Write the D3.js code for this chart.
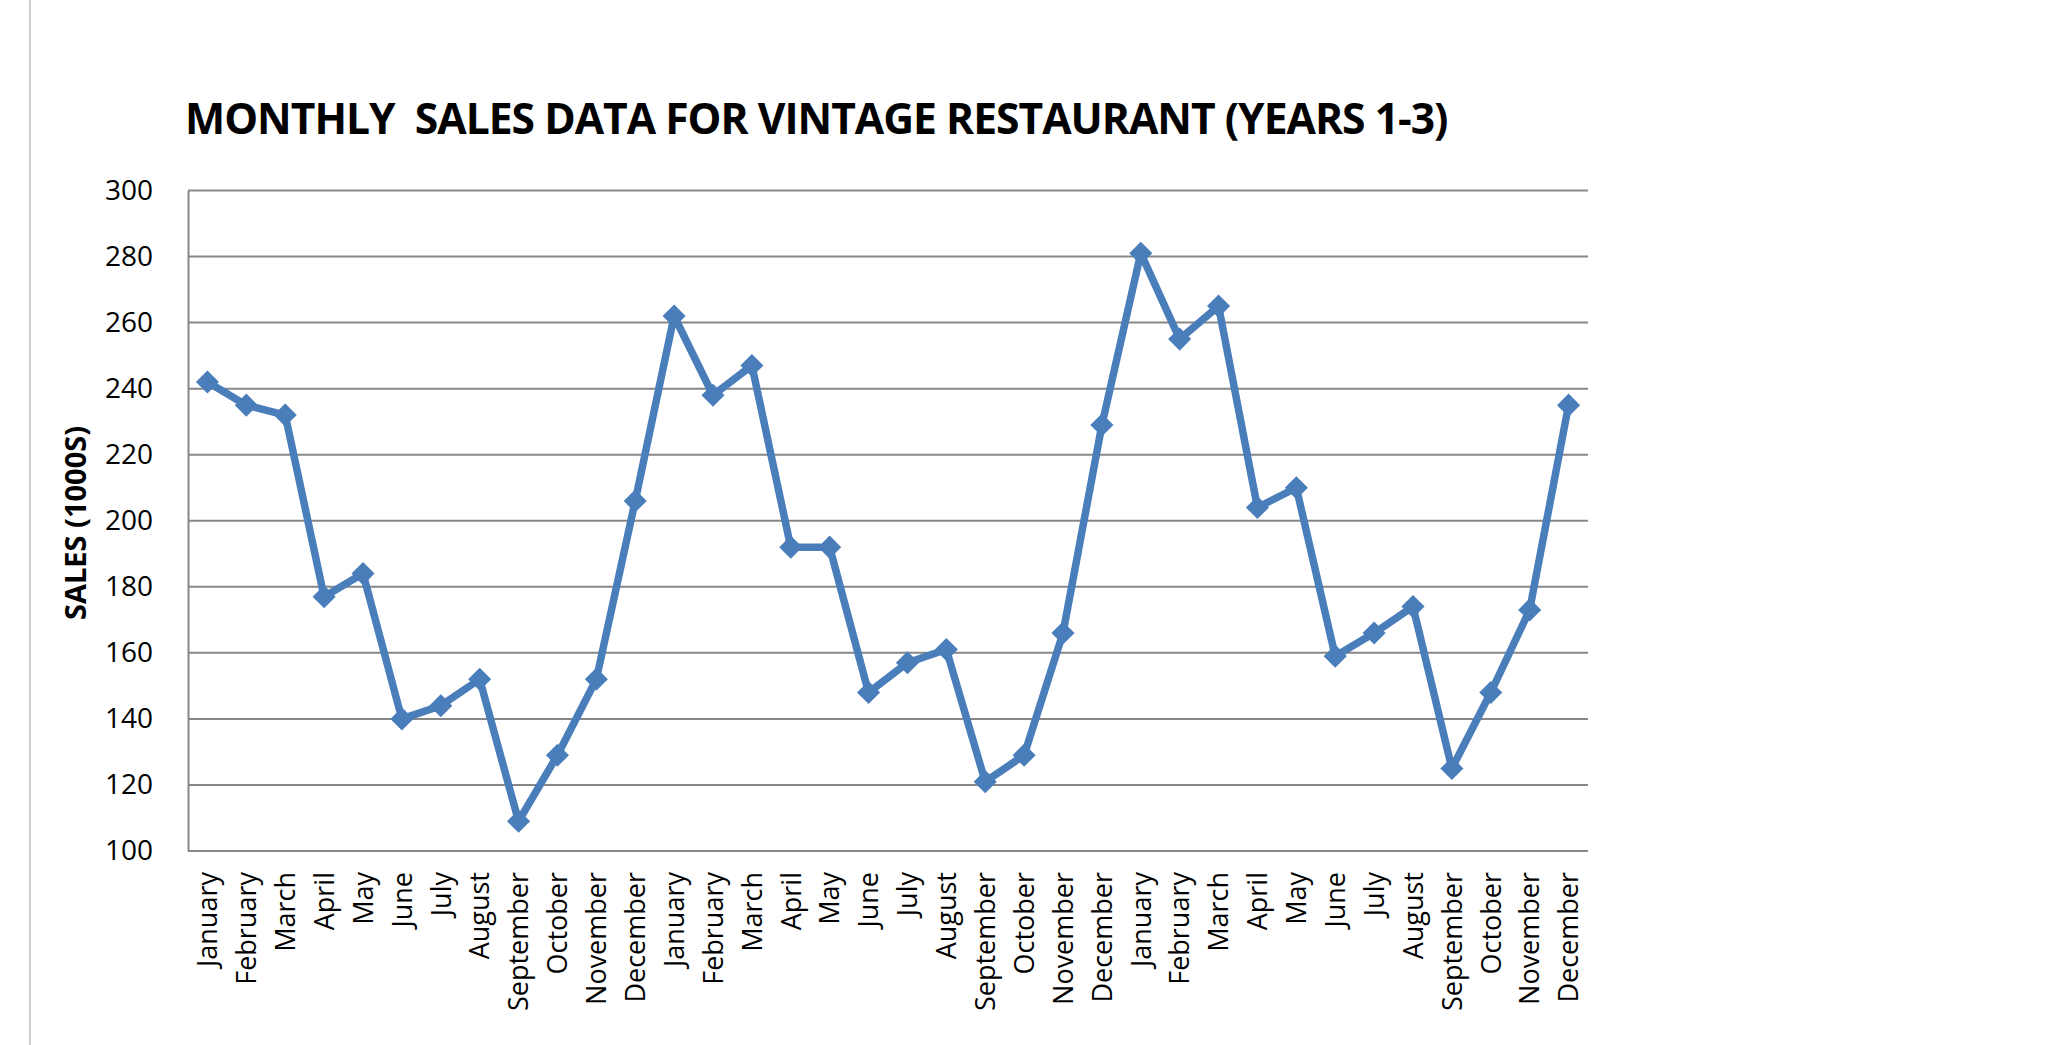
<!DOCTYPE html>
<html>
<head>
<meta charset="utf-8">
<script src="https://cdn.jsdelivr.net/npm/d3@7"></script>
<style>
  body { margin: 0; background: #fff; }
  svg { display: block; }
</style>
</head>
<body>
<script>
// monthly sales, three years back to back
var months = ["January", "February", "March", "April", "May", "June",
  "July", "August", "September", "October", "November", "December"];
var year1 = [242, 235, 232, 177, 184, 140, 144, 152, 109, 129, 152, 206];
var year2 = [262, 238, 247, 192, 192, 148, 157, 161, 121, 129, 166, 229];
var year3 = [281, 255, 265, 204, 210, 159, 166, 174, 125, 148, 173, 235];
var yTicks = [100, 120, 140, 160, 180, 200, 220, 240, 260, 280, 300];
var title = "MONTHLY  SALES DATA FOR VINTAGE RESTAURANT (YEARS 1-3)";
var yTitle = "SALES (1000S)";

var width = 2046;
var height = 1045;
var margin = {left: 188, right: 458, top: 190.5, bottom: 194};

var sales = year1.concat(year2, year3).map(function(v, i) {
  return {key: i, month: months[i % 12], value: v};
});

var svg = d3.select("body").append("svg")
    .attr("width", width)
    .attr("height", height);

// thin page edge on the left
svg.append("line")
    .attr("x1", 30).attr("x2", 30)
    .attr("y1", 0).attr("y2", height)
    .attr("stroke", "#cfcfcf")
    .attr("stroke-width", 2);

var x = d3.scaleBand()
    .domain(sales.map(function(d) { return d.key; }))
    .range([margin.left, width - margin.right]);

var y = d3.scaleLinear()
    .domain([100, 300])
    .range([height - margin.bottom, margin.top]);

// gridlines
svg.append("g")
    .selectAll("line")
    .data(yTicks)
    .enter()
    .append("line")
    .attr("x1", margin.left)
    .attr("x2", width - margin.right)
    .attr("y1", function(d) { return y(d); })
    .attr("y2", function(d) { return y(d); })
    .attr("stroke", "#878787")
    .attr("stroke-width", 2);

// y axis
var yAxis = svg.append("g")
    .attr("transform", "translate(" + margin.left + ",0)")
    .call(d3.axisLeft(y).tickValues(yTicks).tickSize(0).tickPadding(35));
yAxis.select(".domain").attr("stroke", "#878787").attr("stroke-width", 2);
yAxis.selectAll("text")
    .attr("font-family", "'Open Sans', sans-serif")
    .attr("font-size", 28)
    .attr("fill", "#000");

// x axis
var xAxis = svg.append("g")
    .attr("transform", "translate(0," + (height - margin.bottom) + ")")
    .call(d3.axisBottom(x).tickSize(0).tickFormat(function(k) { return sales[k].month; }));
xAxis.select(".domain").remove();
xAxis.selectAll("text")
    .attr("font-family", "'Open Sans', sans-serif")
    .attr("font-size", 27)
    .attr("fill", "#000")
    .attr("text-anchor", "end")
    .attr("dy", "0.36em")
    .attr("transform", "translate(0,21) rotate(-90)")
    .attr("x", 0)
    .attr("y", 0);

// y axis title
svg.append("text")
    .attr("transform", "translate(86,523) rotate(-90)")
    .attr("text-anchor", "middle")
    .attr("font-family", "'Open Sans', sans-serif")
    .attr("font-weight", "bold")
    .attr("font-size", 29)
    .text(yTitle);

// chart title, sized to the reference width
var t = svg.append("text")
    .attr("x", 185)
    .attr("y", 134)
    .attr("font-family", "'Open Sans', sans-serif")
    .attr("font-weight", "bold")
    .attr("font-size", 42)
    .attr("letter-spacing", -1)
    .style("white-space", "pre")
    .text(title);
var tw = t.node().getComputedTextLength();
t.attr("font-size", 42 * 1262 / tw);

// the line
var line = d3.line()
    .x(function(d) { return x(d.key) + x.bandwidth() / 2; })
    .y(function(d) { return y(d.value); });

svg.append("path")
    .datum(sales)
    .attr("d", line)
    .attr("fill", "none")
    .attr("stroke", "#4a7ebb")
    .attr("stroke-width", 7.5)
    .attr("stroke-linejoin", "round");

svg.append("g")
    .selectAll("path")
    .data(sales)
    .enter()
    .append("path")
    .attr("d", d3.symbol().type(d3.symbolDiamond2).size(340))
    .attr("transform", function(d) {
      return "translate(" + (x(d.key) + x.bandwidth() / 2) + "," + y(d.value) + ")";
    })
    .attr("fill", "#4a7ebb");
</script>
</body>
</html>
